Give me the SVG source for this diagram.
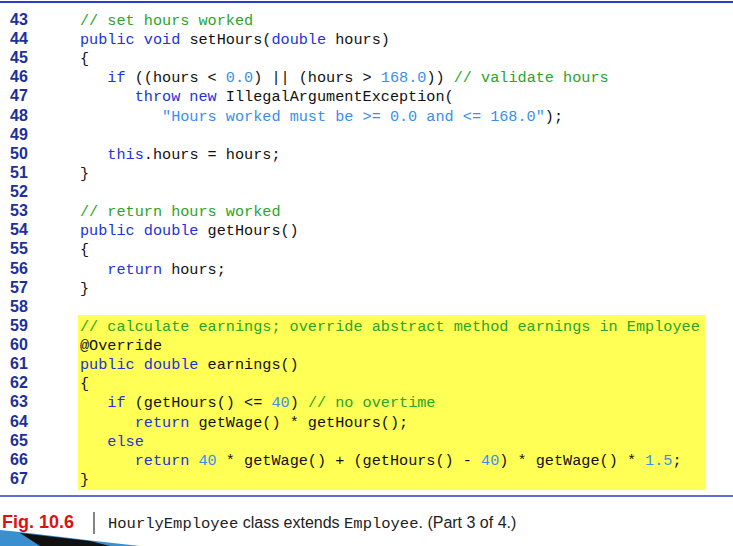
<svg xmlns="http://www.w3.org/2000/svg" width="733" height="546" viewBox="0 0 733 546">
<style>
.n{font-family:"Liberation Sans Narrow","Liberation Sans",Arial,sans-serif;font-weight:bold;font-size:16px;fill:#1c2f9c}
.c{font-family:"Liberation Mono","DejaVu Sans Mono",monospace;font-size:15.2px;fill:#111;white-space:pre}
.cm{fill:#2aa52a}.k{fill:#2233dd}.l{fill:#3a8ef0}
.cap{font-family:"Liberation Sans",Arial,sans-serif;font-size:16px;fill:#222}
.m{font-family:"Liberation Mono",monospace;font-size:15.5px}
</style>
<rect width="733" height="546" fill="#fff"/>
<line x1="0" y1="2" x2="733" y2="2" stroke="#2a3fc8" stroke-width="2"/>
<rect x="78" y="315" width="627" height="175" fill="#ffff55"/>
<g id="linenums">
<text class="n" x="10" y="25">43</text><text class="n" x="10" y="44">44</text><text class="n" x="10" y="63">45</text><text class="n" x="10" y="82">46</text><text class="n" x="10" y="101">47</text><text class="n" x="10" y="121">48</text><text class="n" x="10" y="140">49</text><text class="n" x="10" y="159">50</text><text class="n" x="10" y="178">51</text><text class="n" x="10" y="197">52</text><text class="n" x="10" y="216">53</text><text class="n" x="10" y="235">54</text><text class="n" x="10" y="254">55</text><text class="n" x="10" y="274">56</text><text class="n" x="10" y="293">57</text><text class="n" x="10" y="312">58</text><text class="n" x="10" y="331">59</text><text class="n" x="10" y="350">60</text><text class="n" x="10" y="369">61</text><text class="n" x="10" y="388">62</text><text class="n" x="10" y="407">63</text><text class="n" x="10" y="427">64</text><text class="n" x="10" y="446">65</text><text class="n" x="10" y="465">66</text><text class="n" x="10" y="484">67</text>
</g>
<g id="code">
<text class="c" x="80" y="25"><tspan class="cm">// set hours worked</tspan></text>
<text class="c" x="80" y="44"><tspan class="k">public void</tspan> setHours(<tspan class="k">double</tspan> hours)</text>
<text class="c" x="80" y="63">{</text>
<text class="c" x="80" y="82">   <tspan class="k">if</tspan> ((hours &lt; <tspan class="l">0.0</tspan>) || (hours &gt; <tspan class="l">168.0</tspan>)) <tspan class="cm">// validate hours</tspan></text>
<text class="c" x="80" y="101">      <tspan class="k">throw new</tspan> IllegalArgumentException(</text>
<text class="c" x="80" y="121">         <tspan class="l">"Hours worked must be &gt;= 0.0 and &lt;= 168.0"</tspan>);</text>
<text class="c" x="80" y="159">   <tspan class="k">this</tspan>.hours = hours;</text>
<text class="c" x="80" y="178">}</text>
<text class="c" x="80" y="216"><tspan class="cm">// return hours worked</tspan></text>
<text class="c" x="80" y="235"><tspan class="k">public double</tspan> getHours()</text>
<text class="c" x="80" y="254">{</text>
<text class="c" x="80" y="274">   <tspan class="k">return</tspan> hours;</text>
<text class="c" x="80" y="293">}</text>
<text class="c" x="80" y="331"><tspan class="cm">// calculate earnings; override abstract method earnings in Employee</tspan></text>
<text class="c" x="80" y="350">@Override</text>
<text class="c" x="80" y="369"><tspan class="k">public double</tspan> earnings()</text>
<text class="c" x="80" y="388">{</text>
<text class="c" x="80" y="407">   <tspan class="k">if</tspan> (getHours() &lt;= <tspan class="l">40</tspan>) <tspan class="cm">// no overtime</tspan></text>
<text class="c" x="80" y="427">      <tspan class="k">return</tspan> getWage() * getHours();</text>
<text class="c" x="80" y="446">   <tspan class="k">else</tspan></text>
<text class="c" x="80" y="465">      <tspan class="k">return</tspan> <tspan class="l">40</tspan> * getWage() + (getHours() - <tspan class="l">40</tspan>) * getWage() * <tspan class="l">1.5</tspan>;</text>
<text class="c" x="80" y="484">}</text>
</g>
<line x1="0" y1="496" x2="733" y2="496" stroke="#2a3fc8" stroke-width="1.5"/>
<polygon points="0,530 20,532 95,541 140,546 0,546" fill="#3a8fd0"/>
<polygon points="20,533 90,541 110,546 40,546" fill="#111"/>
<text x="2" y="528" font-family="Liberation Sans Narrow,Liberation Sans,Arial,sans-serif" font-weight="bold" font-size="18" fill="#dd1111">Fig. 10.6</text>
<line x1="94" y1="512" x2="94" y2="534" stroke="#333" stroke-width="1.2"/>
<text class="cap" x="108" y="528"><tspan class="m">HourlyEmployee</tspan> class extends <tspan class="m">Employee</tspan>. (Part 3 of 4.)</text>
</svg>
